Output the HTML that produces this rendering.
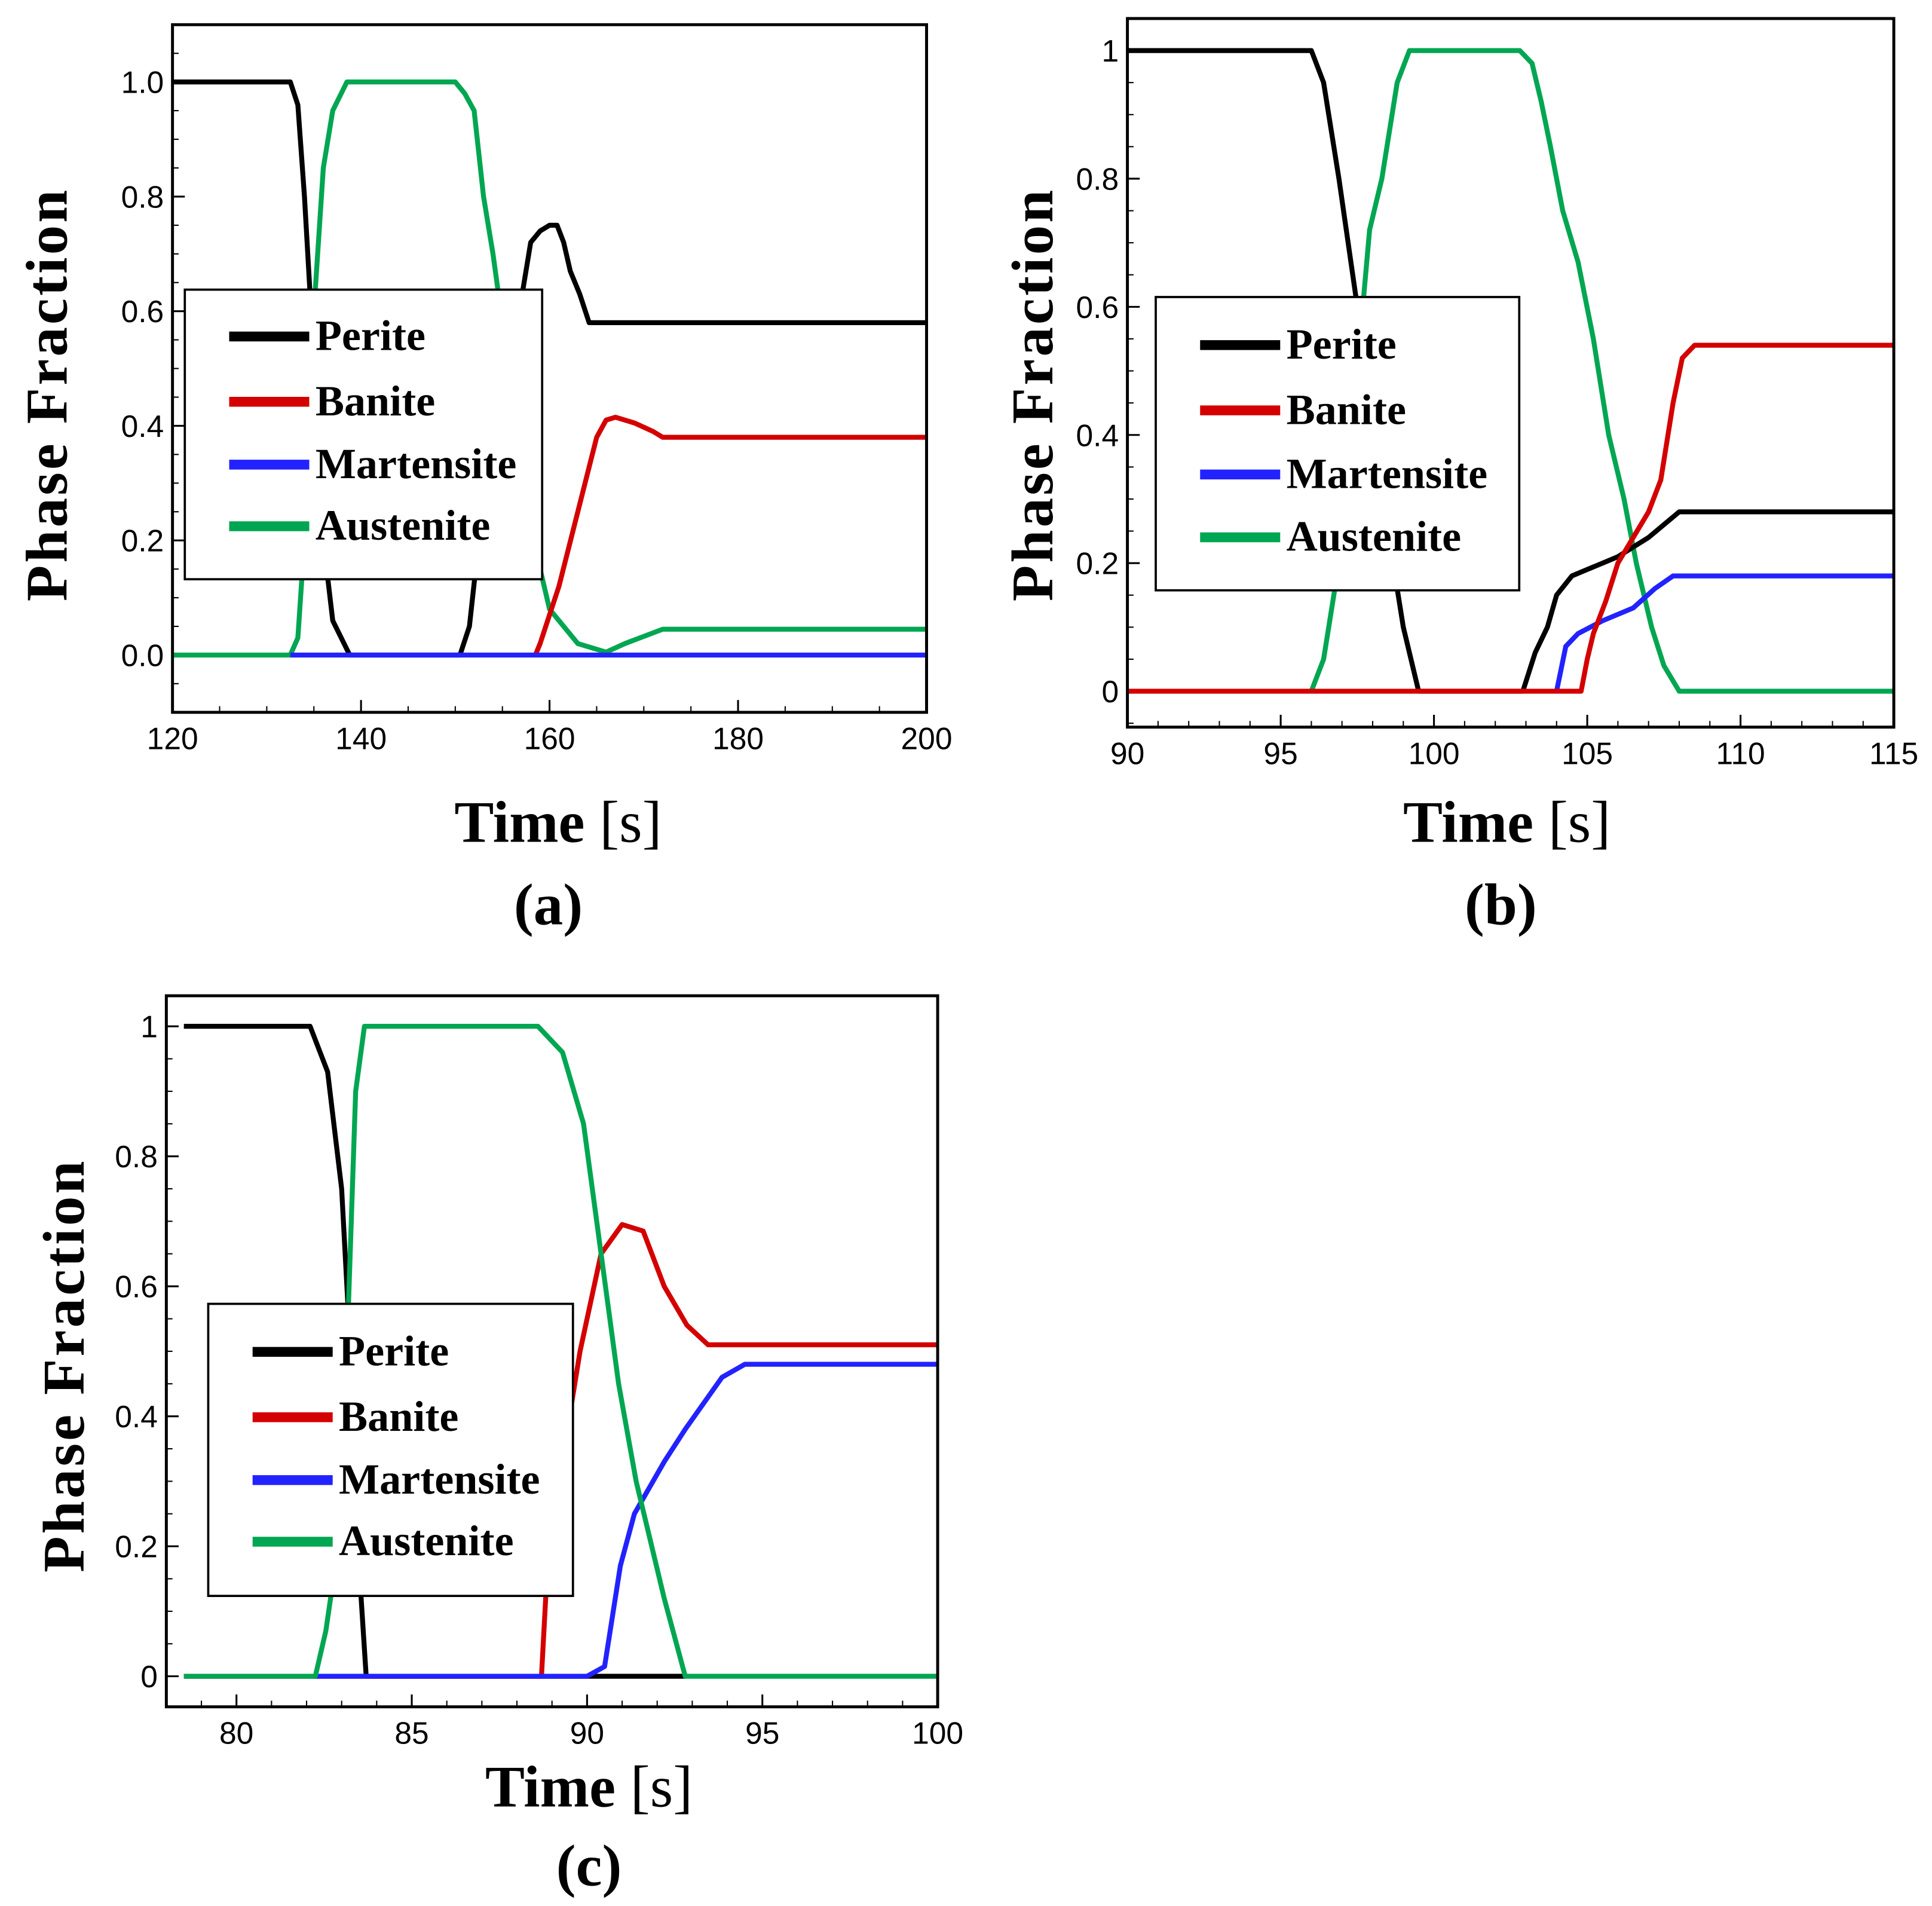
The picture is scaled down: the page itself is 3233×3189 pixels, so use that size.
<!DOCTYPE html>
<html><head><meta charset="utf-8">
<style>
html,body{margin:0;padding:0;background:#fff;}
svg{display:block;}
.tick{font-family:"Liberation Sans",Arial,sans-serif;font-size:25px;fill:#000;}
.title{font-family:"Liberation Serif",serif;font-size:48px;fill:#000;}
.leg{font-family:"Liberation Serif",serif;font-size:35px;font-weight:bold;fill:#000;}
</style></head>
<body>
<svg id="fig" width="3233" height="3189" viewBox="0 0 1568 1546.6" xmlns="http://www.w3.org/2000/svg"></svg>
<script>
// ---- Panel (a) data ----
const aPeriteX=[120,132.5,133.3,134,134.7,135.2,136,137,138.8,150.5,151.5,152.5,153.5,155,157,158,159,160,160.8,161.5,162.2,163.2,164.2,200];
const aPeriteY=[1,1,0.96,0.8,0.6,0.4,0.2,0.06,0,0,0.05,0.2,0.35,0.5,0.62,0.72,0.74,0.75,0.75,0.72,0.67,0.63,0.58,0.58];
const aBaniteX=[158.5,159,161,163,165,166,167,169,171,172,200];
const aBaniteY=[0,0.02,0.12,0.25,0.38,0.41,0.415,0.405,0.39,0.38,0.38];
const aMartX=[132.5,200];
const aMartY=[0,0];
const aAustX=[120,132.5,133.3,134.2,135,136,137,138.5,150,151,152,153,154,155,156,157,158,159,160,161,162,163,165,166,168,172,200];
const aAustY=[0,0,0.03,0.25,0.6,0.85,0.95,1,1,0.98,0.95,0.8,0.7,0.58,0.45,0.35,0.25,0.15,0.08,0.06,0.04,0.02,0.01,0.005,0.02,0.045,0.045];
const aXTicks=[120,140,160,180,200];
const aYTicks=[0,0.2,0.4,0.6,0.8,1.0];
const aYLabels=["0.0","0.2","0.4","0.6","0.8","1.0"];
// ---- Panel (b) data ----
const bPeriteX=[90,96,96.4,96.9,97.5,98,98.5,99,99.5,102.9,103.3,103.7,104,104.5,105,105.5,106,107,108,115];
const bPeriteY=[1,1,0.95,0.8,0.6,0.42,0.25,0.1,0,0,0.06,0.1,0.15,0.18,0.19,0.2,0.21,0.24,0.28,0.28];
const bBaniteX=[90,104.8,105,105.2,105.6,106,106.5,107,107.4,107.8,108.1,108.5,115];
const bBaniteY=[0,0,0.05,0.09,0.14,0.2,0.24,0.28,0.33,0.45,0.52,0.54,0.54];
const bMartX=[104,104.3,104.7,105.5,106.5,107.2,107.8,115];
const bMartY=[0,0.07,0.09,0.11,0.13,0.16,0.18,0.18];
const bAustX=[96,96.4,96.9,97.4,97.9,98.3,98.8,99.2,102.8,103.2,103.5,103.8,104.2,104.7,105.2,105.7,106.2,106.6,107.1,107.5,108,115];
const bAustY=[0,0.05,0.2,0.45,0.72,0.8,0.95,1,1,0.98,0.92,0.85,0.75,0.67,0.55,0.4,0.3,0.2,0.1,0.04,0,0];
const bXTicks=[90,95,100,105,110,115];
const bYTicks=[0,0.2,0.4,0.6,0.8,1];
const bYLabels=["0","0.2","0.4","0.6","0.8","1"];
// ---- Panel (c) data ----
const cPeriteX=[78.5,82.1,82.6,83,83.2,83.4,83.7,92.8];
const cPeriteY=[1,1,0.93,0.75,0.55,0.25,0,0];
const cBaniteX=[78.5,88.7,88.9,89.8,90.4,91,91.6,92.2,92.85,93.45,100];
const cBaniteY=[0,0,0.2,0.5,0.65,0.695,0.685,0.6,0.54,0.51,0.51];
const cMartX=[82.2,90,90.5,90.95,91.35,92.2,92.8,93.85,94.5,100];
const cMartY=[0,0,0.015,0.17,0.25,0.33,0.38,0.46,0.48,0.48];
const cAustX=[78.5,82.25,82.55,82.9,83.15,83.4,83.65,88.6,89.3,89.9,90.4,90.9,91.4,92.2,92.8,100];
const cAustY=[0,0,0.07,0.2,0.5,0.9,1,1,0.96,0.85,0.65,0.45,0.3,0.12,0,0];
const cXTicks=[80,85,90,95,100];
const cYTicks=[0,0.2,0.4,0.6,0.8,1];
const cYLabels=["0","0.2","0.4","0.6","0.8","1"];

const NS="http://www.w3.org/2000/svg";
const svg=document.getElementById('fig');
function mk(tag,attrs,parent){const e=document.createElementNS(NS,tag);for(const k in attrs)e.setAttribute(k,attrs[k]);(parent||svg).appendChild(e);return e;}
const COLORS={perite:"#000000",banite:"#d40000",mart:"#2222ff",aust:"#00a651"};

function panel(id,box,xr,yr,xTicks,xMinor,yTicks,yLabels,yMinor,series,leg,titles){
  const g=mk('g',{});
  
  
  const sx=v=>box.l+(v-xr[0])/(xr[1]-xr[0])*(box.r-box.l);
  const sy=v=>box.b-(v-yr[0])/(yr[1]-yr[0])*(box.b-box.t);
  for(let v=Math.ceil(xr[0]/xMinor)*xMinor; v<=xr[1]+1e-9; v+=xMinor){
    const t=mk('line',{x1:sx(v),x2:sx(v),y1:box.b,y2:box.b-5,stroke:'#000','stroke-width':1},g);
    
  }
  for(let v=Math.ceil(yr[0]/yMinor-1e-9)*yMinor; v<=yr[1]+1e-9; v+=yMinor){
    const t=mk('line',{x1:box.l,x2:box.l+5,y1:sy(v),y2:sy(v),stroke:'#000','stroke-width':1},g);
    
  }
  xTicks.forEach(v=>{
    const t=mk('line',{x1:sx(v),x2:sx(v),y1:box.b,y2:box.b-10,stroke:'#000','stroke-width':1.5},g);
    
    const tx=mk('text',{x:sx(v),y:box.b+30,'text-anchor':'middle',class:'tick'},g);tx.textContent=String(v);
    
  });
  yTicks.forEach((v,i)=>{
    const t=mk('line',{x1:box.l,x2:box.l+10,y1:sy(v),y2:sy(v),stroke:'#000','stroke-width':1.5},g);
    
    const tx=mk('text',{x:box.l-7,y:sy(v)+9,'text-anchor':'end',class:'tick'},g);tx.textContent=yLabels[i];
    
  });
  const clip='clip-'+id;
  const cp=mk('clipPath',{id:clip},g);mk('rect',{x:box.l,y:box.t,width:box.r-box.l,height:box.b-box.t},cp);
  series.forEach(s=>{
    const p=mk('polyline',{points:s.x.map((v,i)=>sx(v)+','+sy(s.y[i])).join(' '),fill:'none',stroke:s.c,'stroke-width':4,'stroke-linejoin':'round','clip-path':'url(#'+clip+')'},g);
    
    
  });
  const fr=mk('rect',{x:box.l,y:box.t,width:box.r-box.l,height:box.b-box.t,fill:'none',stroke:'#000','stroke-width':2.4},g);
  
  const lg=mk('g',{},g);
  
  mk('rect',{x:leg.x,y:leg.y,width:leg.w,height:leg.h,fill:'#fff',stroke:'#000','stroke-width':1.8},lg);
  const names=['Perite','Banite','Martensite','Austenite'];const cols=[COLORS.perite,COLORS.banite,COLORS.mart,COLORS.aust];
  names.forEach((n,i)=>{
    const yy=leg.y+leg.rows[i];
    const e=mk('g',{},lg);
    
    mk('line',{x1:leg.x+36,x2:leg.x+101,y1:yy,y2:yy,stroke:cols[i],'stroke-width':8},e);
    const t=mk('text',{x:leg.x+106,y:yy+11,class:'leg'},e);t.textContent=n;
  });
  const yt=mk('text',{x:0,y:0,'text-anchor':'middle',class:'title','font-weight':'bold',transform:'translate('+titles.yx+','+titles.yy+') rotate(-90)','letter-spacing':'2'},g);
  yt.textContent='Phase Fraction';
  const xt=mk('text',{x:titles.xx,y:titles.xy,'text-anchor':'middle',class:'title','font-size':'52'},g);
  
  const ts1=mk('tspan',{'font-weight':'bold'},xt);ts1.textContent='Time ';
  const ts2=mk('tspan',{},xt);ts2.textContent='[s]';
  const cap=mk('text',{x:titles.cx,y:titles.cy,'text-anchor':'middle',class:'title','font-weight':'bold','font-size':'40'},g);
  cap.textContent='('+id+')';
}

panel('a',{l:140,r:752,t:20,b:578},[120,200],[-0.1,1.1],aXTicks,5,aYTicks,aYLabels,0.05,
 [{n:'austenite',x:aAustX,y:aAustY,c:COLORS.aust},{n:'perite',x:aPeriteX,y:aPeriteY,c:COLORS.perite},{n:'banite',x:aBaniteX,y:aBaniteY,c:COLORS.banite},{n:'martensite',x:aMartX,y:aMartY,c:COLORS.mart}],
 {x:150,y:235,w:290,h:235,rows:[38,91,142,192]},
 {yx:54,yy:320,xx:453,xy:683,cx:445,cy:750});
panel('b',{l:915,r:1537,t:15,b:590},[90,115],[-0.056,1.05],bXTicks,1,bYTicks,bYLabels,0.05,
 [{n:'austenite',x:bAustX,y:bAustY,c:COLORS.aust},{n:'perite',x:bPeriteX,y:bPeriteY,c:COLORS.perite},{n:'martensite',x:bMartX,y:bMartY,c:COLORS.mart},{n:'banite',x:bBaniteX,y:bBaniteY,c:COLORS.banite}],
 {x:938,y:241,w:295,h:238,rows:[39,92,144,195]},
 {yx:854,yy:320,xx:1223,xy:683,cx:1218,cy:750});
panel('c',{l:135,r:761,t:808,b:1385},[78,100],[-0.047,1.047],cXTicks,1,cYTicks,cYLabels,0.05,
 [{n:'perite',x:cPeriteX,y:cPeriteY,c:COLORS.perite},{n:'banite',x:cBaniteX,y:cBaniteY,c:COLORS.banite},{n:'martensite',x:cMartX,y:cMartY,c:COLORS.mart},{n:'austenite',x:cAustX,y:cAustY,c:COLORS.aust}],
 {x:169,y:1058,w:296,h:237,rows:[39,92,143,193]},
 {yx:68,yy:1108,xx:478,xy:1466,cx:478,cy:1530});
</script>
</body></html>
